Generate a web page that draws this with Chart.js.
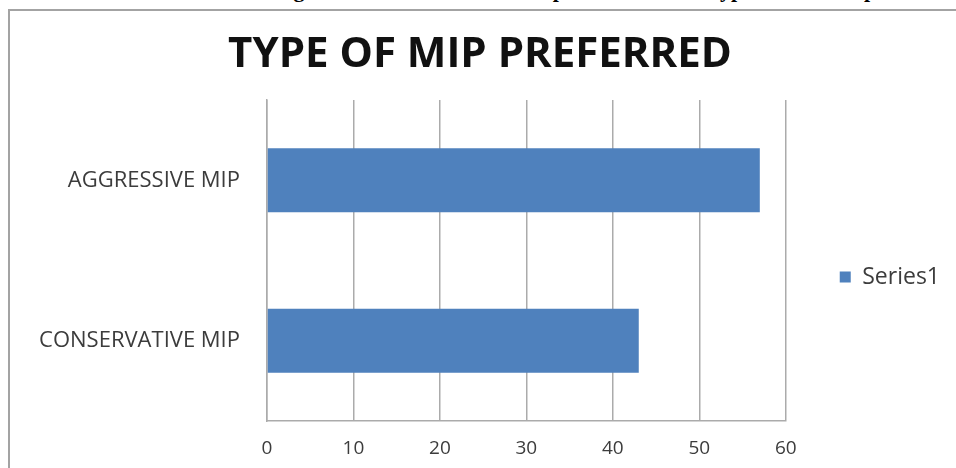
<!DOCTYPE html>
<html>
<head>
<meta charset="utf-8">
<script src="https://cdn.jsdelivr.net/npm/chart.js@4.4.1/dist/chart.umd.min.js"></script>
<style>
  html, body { margin: 0; padding: 0; background: #fff; overflow: hidden; }
  body { width: 956px; height: 468px; position: relative; }
  .caption { position: absolute; top: -21px; left: 0; width: 956px; height: 24px;
    font: bold 22px "Liberation Serif", "Times New Roman", serif; line-height: 22px; color: #000; }
  .caption span { position: absolute; top: 0; white-space: nowrap; }
  .frame { position: absolute; left: 8px; top: 9px; width: 1000px; height: 600px;
    border: 2px solid #a3a3a3; background: #fff; }
  .wrap { position: absolute; left: 10px; top: 11px; width: 946px; height: 532px; }
</style>
</head>
<body>
<div class="caption">
  <span style="left:274px">Figure 4.6: Distribution of</span>
  <span style="left:525px">respondents on</span>
  <span style="left:707px">Type of MIP</span>
  <span style="left:864px">preferred</span>
</div>
<div class="frame"></div>
<div class="wrap"><canvas id="chart" width="946" height="532"></canvas></div>
<script>
const categories = ["AGGRESSIVE MIP", "CONSERVATIVE MIP"];
const series1 = [57, 43];
const xTicks = [0, 10, 20, 30, 40, 50, 60];

const textFont = '"Open Sans", "DejaVu Sans", sans-serif';
const gridColor = "#ababab";
const labelColor = "#3c3c3c";

new Chart(document.getElementById("chart"), {
  type: "bar",
  data: {
    labels: categories,
    datasets: [{
      label: "Series1",
      data: series1,
      backgroundColor: "#4f81bd",
      borderWidth: 0,
      barPercentage: 0.4,
      categoryPercentage: 1
    }]
  },
  options: {
    indexAxis: "y",
    responsive: false,
    animation: false,
    layout: { padding: { left: 0, right: 6, top: 0, bottom: 0 } },
    plugins: {
      title: {
        display: true,
        text: "TYPE OF MIP PREFERRED",
        color: "#111",
        font: { family: textFont, size: 42, weight: "bold" },
        padding: { top: 19, bottom: 19.6 }
      },
      legend: {
        position: "right",
        labels: {
          boxWidth: 11,
          boxHeight: 11,
          padding: 54,
          color: labelColor,
          font: { family: textFont, size: 23 }
        }
      },
      tooltip: { enabled: false }
    },
    scales: {
      x: {
        min: xTicks[0],
        max: xTicks[xTicks.length - 1],
        afterFit: (scale) => { scale.height = 122; },
        afterBuildTicks: (scale) => { scale.ticks = xTicks.map((v) => ({ value: v })); },
        grid: { color: gridColor, lineWidth: 1.5, drawTicks: false },
        border: { display: true, color: gridColor, width: 1.5 },
        ticks: {
          padding: 16,
          color: labelColor,
          font: { family: textFont, size: 19 }
        }
      },
      y: {
        afterFit: (scale) => { scale.width = 257; },
        grid: { display: false, drawTicks: false },
        border: { display: true, color: gridColor, width: 1.5 },
        ticks: {
          padding: 27,
          color: labelColor,
          font: { family: textFont, size: 22 }
        }
      }
    }
  }
});
</script>
</body>
</html>
